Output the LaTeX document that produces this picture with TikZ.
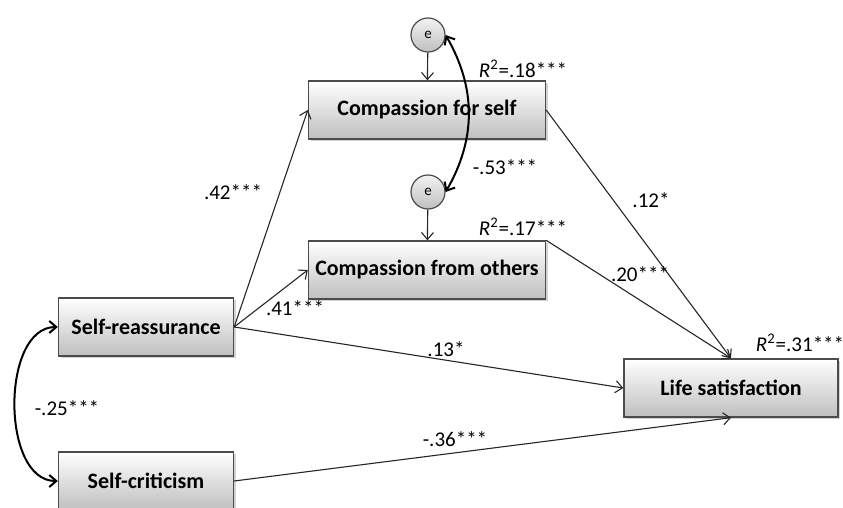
\documentclass[tikz,border=0pt]{standalone}
\usepackage{fontspec}
\setmainfont{Carlito}
\usetikzlibrary{arrows,arrows.meta,shadows}

\begin{document}
\begin{tikzpicture}[x=0.5pt,y=-0.5pt,>={Straight Barb[length=3.5pt,width=6pt]}]

\tikzstyle{var} = [rectangle, minimum height=29pt, text centered, draw=black!70, line width=0.7pt, top color=white, bottom color=black!25, drop shadow={shadow xshift=1pt, shadow yshift=-1pt, opacity=0.35}, font=\bfseries\fontsize{11}{13}\selectfont]
\tikzstyle{err} = [circle, minimum size=17pt, inner sep=0pt, draw=black!70, line width=0.6pt, top color=black!5, bottom color=black!25, font=\fontsize{7.5}{9}\selectfont]
\tikzstyle{lbl} = [inner sep=0pt, font=\fontsize{10.5}{12}\selectfont]
\tikzstyle{path} = [->, line width=0.55pt, black!85]
\tikzstyle{cov} = [<->, line width=1pt, black]

\useasboundingbox (0,0) rectangle (843,508);

\node (cfs) [var, minimum width=118.5pt] at (427,110) {Compassion for self};
\node (cfo) [var, minimum width=118.5pt] at (427,270) {Compassion from others};
\node (sr) [var, minimum width=87.5pt] at (146,327) {Self-reassurance};
\node (sc) [var, minimum width=87.5pt] at (146,481) {Self-criticism};
\node (ls) [var, minimum width=107pt] at (731,388) {Life satisfaction};
\node (e1) [err] at (428,35) {e};
\node (e2) [err] at (428,192) {e};

\draw [path] (e1)--(cfs);
\draw [path] (e2)--(cfo);
\draw [path] (sr.east)--(cfs.west);
\draw [path] (sr.east)--(cfo.west);
\draw [path] (sr.east)--(ls.west);
\draw [path] (sc.east)--(ls.south);
\draw [path] (cfs.east)--(ls.north);
\draw [path] (cfo.north east)--(ls.north);
\draw [cov] (e1.east) to[bend left=30] (e2.east);
\draw [cov] (sr.west) to[out=180,in=180,looseness=0.95] (sc.west);

\node (b1) [lbl] at (233,192) {.42***};
\node (b2) [lbl] at (295,308) {.41***};
\node (b3) [lbl] at (446,349) {.13*};
\node (b4) [lbl] at (455,439) {-.36***};
\node (b5) [lbl] at (651,200) {.12*};
\node (b6) [lbl] at (640,274) {.20***};
\node (r1) [lbl] at (505,167) {-.53***};
\node (r2) [lbl] at (67,408) {-.25***};
\node (q1) [lbl] at (523,69) {\textit{R}\textsuperscript{2}=.18***};
\node (q2) [lbl] at (523,227) {\textit{R}\textsuperscript{2}=.17***};
\node (q3) [lbl] at (800,343) {\textit{R}\textsuperscript{2}=.31***};
\end{tikzpicture}
\end{document}
